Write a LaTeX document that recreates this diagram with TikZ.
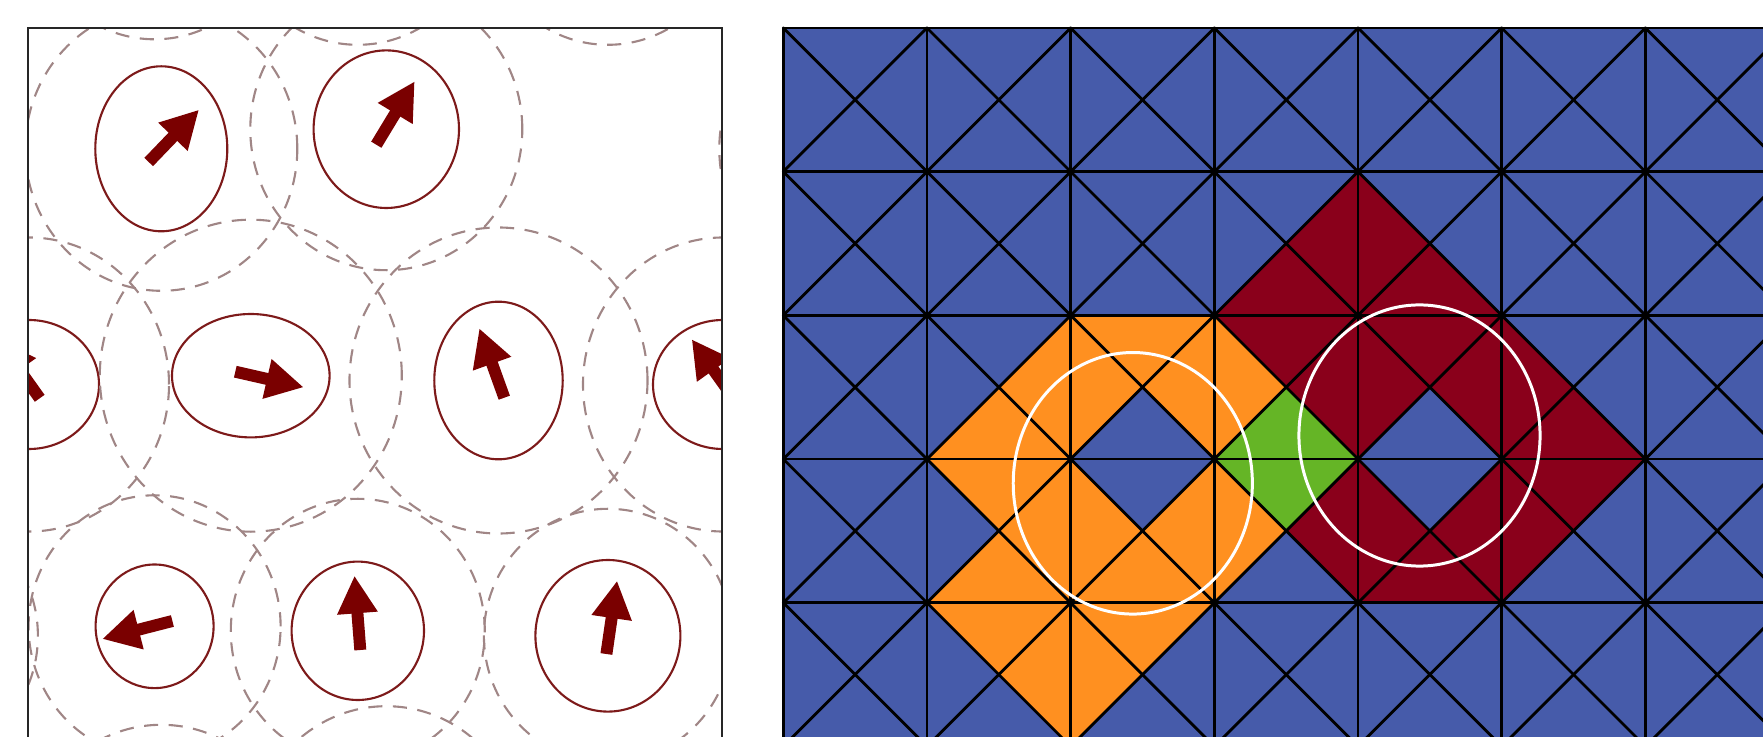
\documentclass[tikz,border=0pt]{standalone}
\usepackage{tikz}
\usetikzlibrary{arrows.meta}
\definecolor{MeshBlue}{HTML}{465BAA}
\definecolor{MeshRed}{HTML}{8A001B}
\definecolor{MeshOrange}{HTML}{FF9020}
\definecolor{MeshGreen}{HTML}{65B526}
\definecolor{CellRed}{HTML}{7D1A1A}
\definecolor{ArrowRed}{HTML}{7A0000}
\definecolor{HaloGray}{HTML}{A08686}

\begin{document}
\begin{tikzpicture}[x=0.01cm,y=-0.01cm,
    cell/.style={draw=CellRed,line width=0.6pt},
    halo/.style={draw=HaloGray,line width=0.6pt,dash pattern=on 4pt off 3pt},
    dir/.style={draw=ArrowRed,line width=3.4pt,-{Triangle[length=10.7pt,width=10.8pt,fill=ArrowRed]}},
    meshline/.style={draw=black,line width=0.8pt,line cap=round},
    ring/.style={draw=white,line width=0.85pt}
  ]
  \useasboundingbox (0,0) rectangle (1763,737);

  % left: cells with their neighbour halos, periodic box
  \begin{scope}
    \clip (28,28) rectangle (722,746);
    \foreach \cx/\cy/\ra/\rb/\ha/\hb/\tx/\ty/\px/\py in {
        161.3/148.8/66/82.5/136/142/148.7/162/199/109.7,
        386.3/129.2/72.7/78.8/136/141/376.3/144.7/414.7/81.3,
        723/384.5/70/64.5/140/147/733.7/398.3/691.7/339.3,
        250.8/375.7/78.8/61.7/151/156/235.3/371.7/303.7/387.3,
        498.5/380.5/64.2/78.8/149/153/504.3/397.7/479.3/328.3,
        154.6/626.3/59/61.8/126/131/172.4/621/102.2/639,
        357.8/630.8/66.2/69.2/127/132/360.3/650/354.5/575.7,
        607.9/635.8/72.5/75.8/124/127/606.4/654/617.1/580.7}{
      \foreach \ox/\oy in {0/0,-694/0,694/0,0/-718,0/718}{
        \draw[halo] (\cx+\ox,\cy+\oy) ellipse [x radius={\ha*0.01cm}, y radius={\hb*0.01cm}];
        \draw[cell] (\cx+\ox,\cy+\oy) ellipse [x radius={\ra*0.01cm}, y radius={\rb*0.01cm}];
        \draw[dir] (\tx+\ox,\ty+\oy) -- (\px+\ox,\py+\oy);
      }
    }
  \end{scope}
  \draw[black!85,line width=0.6pt] (28,28) rectangle (722,746);

  % right: crossed triangle mesh
  \begin{scope}
    \clip (781,26) rectangle (1763,737);
    \begin{scope}[shift={(783.3,28)},x=1.436cm,y=-1.436cm]
      \fill[MeshBlue] (0,0) rectangle (7,5);
      % triangle = col/row/start angle (225 top, 315 right, 45 bottom, 135 left)
      \foreach \c/\r/\a in {1/2/315,1/2/45,2/2/225,2/2/135,2/2/315,3/2/135,
          1/3/225,1/3/315,1/3/45,2/3/135,2/3/315,2/3/45,3/3/135,
          1/4/225,1/4/315,2/4/225,2/4/135}
        \fill[MeshOrange] (\c+.5,\r+.5) -- +(\a:0.7071) -- +(\a+90:0.7071) -- cycle;
      \foreach \c/\r/\a in {3/1/315,3/1/45,4/1/135,4/1/45,3/2/225,3/2/315,
          4/2/225,4/2/135,4/2/315,5/2/135,5/2/45,
          3/3/315,4/3/135,4/3/315,4/3/45,5/3/225,5/3/135}
        \fill[MeshRed] (\c+.5,\r+.5) -- +(\a:0.7071) -- +(\a+90:0.7071) -- cycle;
      \foreach \c/\r/\a in {3/2/45,3/3/225}
        \fill[MeshGreen] (\c+.5,\r+.5) -- +(\a:0.7071) -- +(\a+90:0.7071) -- cycle;
      \foreach \i in {0,...,7}
        \draw[meshline] (\i,0) -- (\i,5);
      \foreach \j in {0,...,5}
        \draw[meshline] (0,\j) -- (7,\j);
      \foreach \i in {0,...,6}
        \foreach \j in {0,...,4}{
          \draw[meshline] (\i,\j) -- (\i+1,\j+1);
          \draw[meshline] (\i+1,\j) -- (\i,\j+1);
        }
    \end{scope}
    \draw[ring] (1132.8,483.3) ellipse [x radius=1.195cm, y radius=1.307cm];
    \draw[ring] (1419.5,435.5) ellipse [x radius=1.205cm, y radius=1.305cm];
  \end{scope}
\end{tikzpicture}
\end{document}
